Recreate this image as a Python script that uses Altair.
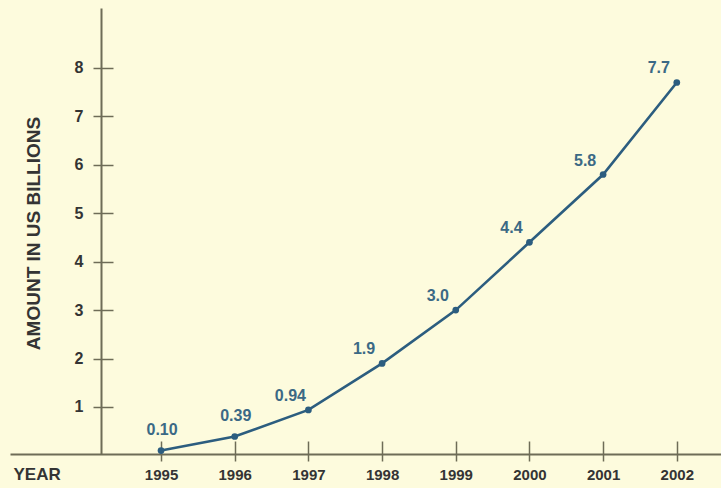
import altair as alt
import pandas as pd

# Annual amounts, in US$ billions
years = [1995, 1996, 1997, 1998, 1999, 2000, 2001, 2002]
amounts = [0.10, 0.39, 0.94, 1.9, 3.0, 4.4, 5.8, 7.7]
y_ticks = [1, 2, 3, 4, 5, 6, 7, 8]

labels = [f"{v:.2f}" if v < 1 else f"{v:.1f}" for v in amounts]
df = pd.DataFrame({"year": years, "amount": amounts, "label": labels})

BG = "#FDFBDD"
AXIS = "#6E6C57"
LINE = "#2C5D7F"
LABEL = "#3B6985"
TEXT = "#343434"
FONT = "Liberation Sans, Arial, sans-serif"

xs = alt.Scale(domain=[1992.95, 2002.6], nice=False, zero=False)
ys = alt.Scale(domain=[0.029, 9.238], nice=False, zero=False)

# Axis lines only
x_line_axis = alt.Axis(domain=True, domainColor=AXIS, domainWidth=2, ticks=False,
                       labels=False, grid=False, title=None, orient="bottom")
y_line_axis = alt.Axis(domain=True, domainColor=AXIS, domainWidth=2, ticks=False,
                       labels=False, grid=False, title=None, orient="left", offset=-91)

# Ticks crossing the axis lines, with labels and titles
x_tick_axis = alt.Axis(domain=False, values=years, format="d", ticks=True, tickSize=20,
                       tickColor=AXIS, tickWidth=1.5, labelPadding=6, labelFont=FONT,
                       labelFontSize=15, labelFontWeight="bold", labelColor=TEXT,
                       grid=False, orient="bottom", offset=-13,
                       title="YEAR", titleFont=FONT,
                       titleFontSize=17, titleFontWeight="bold", titleColor=TEXT,
                       titleX=3, titleY=33, titleAlign="left", titleBaseline="middle",
                       titleAngle=0)
y_tick_axis = alt.Axis(domain=False, values=y_ticks, format="d", ticks=True, tickSize=20,
                       tickColor=AXIS, tickWidth=1.5, labelPadding=10, labelFont=FONT,
                       labelFontSize=16, labelFontWeight="bold", labelColor=TEXT,
                       grid=False, orient="left", offset=-103,
                       title="AMOUNT IN US BILLIONS", titleFont=FONT,
                       titleFontSize=19, titleFontWeight="bold", titleColor=TEXT,
                       titleAngle=270, titleX=-79.5, titleY=225, titleAlign="center",
                       titleBaseline="middle")

base = alt.Chart(df)

line = base.mark_line(color=LINE, strokeWidth=2.6).encode(
    x=alt.X("year:Q", scale=xs, axis=x_line_axis),
    y=alt.Y("amount:Q", scale=ys, axis=y_line_axis),
)

points = base.mark_point(filled=True, color=LINE, size=45, opacity=1).encode(
    x=alt.X("year:Q", scale=xs, axis=x_tick_axis),
    y=alt.Y("amount:Q", scale=ys, axis=y_tick_axis),
)

text_style = dict(font=FONT, fontSize=16, fontWeight="bold", color=LABEL,
                  align="center", baseline="middle")

early_labels = base.transform_filter(alt.datum.year < 1997).mark_text(
    dx=1, dy=-21, **text_style
).encode(
    x=alt.X("year:Q", scale=xs, axis=None),
    y=alt.Y("amount:Q", scale=ys, axis=None),
    text="label:N",
)

late_labels = base.transform_filter(alt.datum.year >= 1997).mark_text(
    dx=-18, dy=-14, **text_style
).encode(
    x=alt.X("year:Q", scale=xs, axis=None),
    y=alt.Y("amount:Q", scale=ys, axis=None),
    text="label:N",
)

chart = alt.layer(line, points, early_labels, late_labels).resolve_axis(
    x="independent", y="independent"
).properties(
    width=711,
    height=446,
    background=BG,
    padding={"left": 10, "top": 8, "right": 0, "bottom": 34},
    autosize=alt.AutoSizeParams(type="none"),
).configure_view(stroke=None)

chart.save("out.html", embed_options={"renderer": "svg", "actions": False})
